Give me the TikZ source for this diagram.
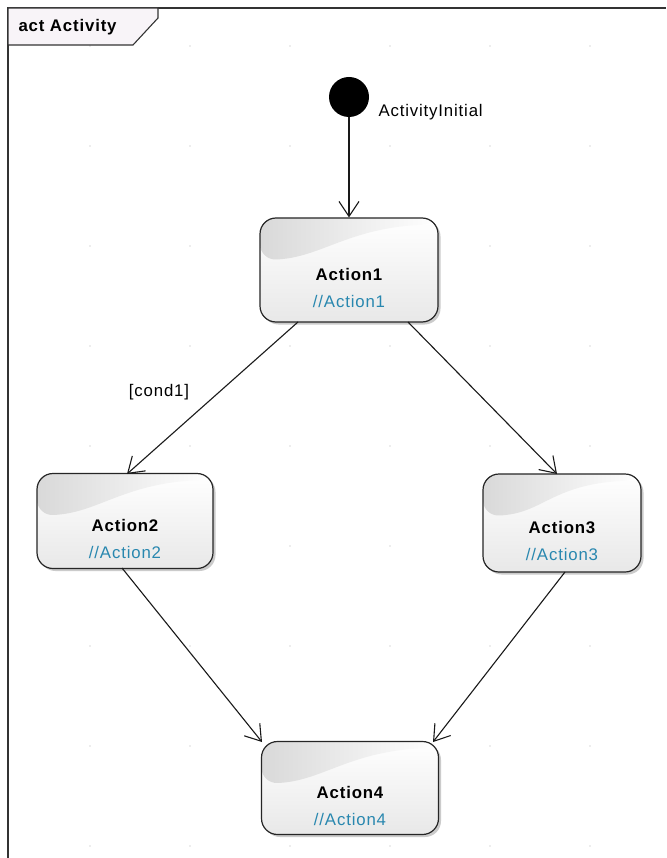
\documentclass[tikz,border=0pt]{standalone}
\usepackage{fontspec}
\setmainfont{Liberation Sans}[LetterSpace=5]
\usetikzlibrary{arrows.meta,shadows}
\definecolor{subblue}{RGB}{40,135,175}
\definecolor{tabfill}{RGB}{248,244,248}
\newcommand{\actlabel}[1]{\rule{0pt}{49pt}{\bfseries #1}\\[7pt]{\color{subblue}//#1}}
\begin{document}
\begin{tikzpicture}[x=1pt,y=-1pt,
  act/.style={draw=black!85, line width=1.2pt, rounded corners=16pt,
    inner sep=0pt, align=center, font=\fontsize{16.8}{20}\selectfont,
    top color=white, bottom color=black!9,
    drop shadow={shadow xshift=2.5pt, shadow yshift=-2.5pt, fill=black!45, opacity=0.45},
    path picture={
      \shade[left color=black!15, right color=white]
        (path picture bounding box.north west) -- (path picture bounding box.north east)
        -- ++(0,6) .. controls +(-90,4) and +(60,-2) .. ([yshift=-42pt]path picture bounding box.north west) -- cycle;
    }},
  flow/.style={draw=black!90, line width=1.1pt, -{Straight Barb[length=15pt,width=20pt,line width=1.1pt]}},
  lbl/.style={font=\fontsize{16.8}{20}\selectfont}]
\useasboundingbox (0,0) rectangle (666,858);
\fill[white] (0,0) rectangle (666,858);
% grid dots
\foreach \gx in {90,190,...,590}
  \foreach \gy in {46,146,...,846}
    \fill[black!30] (\gx,\gy) circle (0.7pt);
% frame
\draw[black!80, line width=1.1pt] (8,858) -- (8,8) -- (666,8);
\draw[black!80, line width=1.1pt, fill=tabfill] (8,8) -- (158,8) -- (158,18) -- (133,45) -- (8,45) -- cycle;
\node[anchor=west, lbl, font=\bfseries\fontsize{16.8}{20}\selectfont] (title) at (15,27) {act Activity};
% initial
\node[circle, fill=black, minimum size=40pt, inner sep=0pt] (init) at (349,97) {};
\node[anchor=west, lbl] (initlbl) at (375,112) {ActivityInitial};
% actions
\node[act, minimum width=178pt, minimum height=104pt] (a1) at (349,270) {\actlabel{Action1}};
\node[act, minimum width=176pt, minimum height=95pt] (a2) at (125,521) {\actlabel{Action2}};
\node[act, minimum width=158pt, minimum height=98pt] (a3) at (562,523) {\actlabel{Action3}};
\node[act, minimum width=177pt, minimum height=93pt] (a4) at (350,788) {\actlabel{Action4}};
% connectors
\coordinate (a1bl) at (298,322);
\coordinate (a1br) at (408,322);
\coordinate (a2t) at (127,474);
\coordinate (a3t) at (557,474);
\coordinate (a2b) at (122,568);
\coordinate (a3b) at (565,572);
\coordinate (a4tl) at (262,742);
\coordinate (a4tr) at (433,742);
\draw[flow] (init) -- (a1);
\draw[flow] (a1bl) -- (a2t);
\node[lbl] (c1) at (159,392) {[cond1]};
\draw[flow] (a1br) -- (a3t);
\draw[flow] (a2b) -- (a4tl);
\draw[flow] (a3b) -- (a4tr);
\end{tikzpicture}
\end{document}
